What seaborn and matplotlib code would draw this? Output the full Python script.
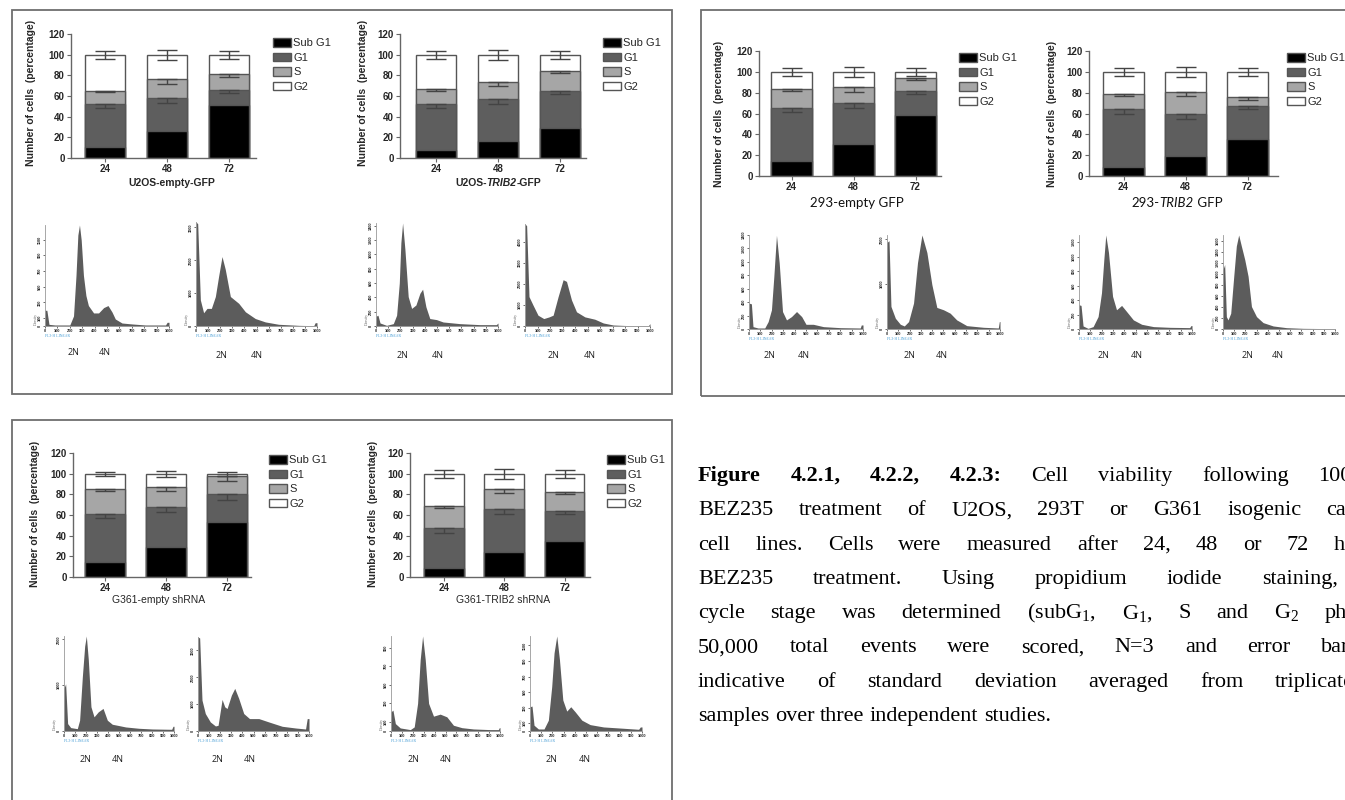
import numpy as np
import pandas as pd
import matplotlib
matplotlib.use("Agg")
import matplotlib.pyplot as plt
from matplotlib.patches import Patch, Rectangle
import seaborn as sns

W, H = 1345, 800

# ---- stacked bars: % of cells per phase (rows Sub G1, G1, S, G2 ; cols 24, 48, 72 h) ----
hours = ["24", "48", "72"]
phases = ["Sub G1", "G1", "S", "G2"]

u2os_empty_pct = [[11, 26, 51], [41, 32, 15], [13, 18, 15], [35, 24, 19]]
u2os_empty_sd = [[4, 5, 3], [1.5, 4, 3], [4, 5, 4]]          # G1, S, G2
u2os_trib2_pct = [[7.5, 16.5, 29], [44.5, 40.5, 36], [15, 17, 19], [33, 26, 16]]
u2os_trib2_sd = [[4, 5, 3], [2, 4, 2], [4, 5, 4]]
hek_empty_pct = [[14, 31, 59], [51, 39, 23], [19, 15, 12], [16, 15, 6]]
hek_empty_sd = [[4, 5, 3], [2, 4, 2], [4, 5, 4]]
hek_trib2_pct = [[9, 19, 36], [55, 41, 31], [15, 21, 9], [21, 19, 24]]
hek_trib2_sd = [[4, 5, 3], [2, 4, 3], [4, 5, 4]]
g361_empty_pct = [[15, 29, 53], [46, 39, 27], [24, 19, 18], [15, 13, 2]]
g361_empty_sd = [[4, 5, 5], [1.5, 4, 5], [2, 3, 2]]
g361_trib2_pct = [[9, 24, 35], [38, 42, 29], [22, 19, 18], [31, 15, 18]]
g361_trib2_sd = [[4, 5, 3], [2, 4, 2], [4, 5, 4]]

# ---- flow cytometry DNA histograms (FL3-H channel, counts) ----
hist_a1_x = [0, 15, 32, 80, 200, 230, 250, 265, 278, 292, 310, 330, 350, 392, 432, 473, 508, 540, 567, 621, 702, 810, 972, 985, 1000]
hist_a1_y = [200, 200, 21, 13, 13, 128, 643, 1157, 1285, 1094, 643, 387, 260, 166, 166, 234, 260, 179, 89, 38, 26, 13, 13, 47, 47]
hist_a1_ticks = [0, 100, 300, 500, 700, 900, 1100]
hist_a2_x = [0, 14, 36, 63, 91, 127, 160, 187, 215, 242, 284, 353, 408, 490, 573, 683, 849, 973, 985, 1000]
hist_a2_y = [3165, 3113, 794, 402, 536, 536, 897, 1515, 2113, 1722, 897, 690, 433, 227, 124, 52, 20, 10, 100, 100]
hist_a2_ticks = [0, 1000, 2000, 3000]
hist_a3_x = [0, 16, 33, 87, 142, 169, 191, 204, 218, 237, 264, 292, 327, 360, 382, 409, 441, 496, 550, 687, 850, 986, 1000]
hist_a3_y = [136, 150, 42, 9, 33, 150, 598, 1162, 1435, 1068, 409, 245, 292, 456, 513, 268, 104, 89, 56, 33, 19, 19, 42]
hist_a3_ticks = [0, 200, 400, 600, 800, 1000, 1200, 1400]
hist_a4_x = [0, 13, 32, 64, 104, 150, 193, 225, 265, 305, 332, 372, 412, 479, 559, 626, 706, 840, 987, 1000]
hist_a4_y = [4870, 4790, 1403, 1000, 516, 355, 435, 516, 1403, 2210, 2129, 1242, 677, 435, 323, 145, 48, 16, 16, 113]
hist_a4_ticks = [0, 1000, 2000, 3000, 4000]

hist_b1_x = [0, 21, 35, 79, 138, 168, 197, 218, 241, 265, 294, 329, 373, 417, 462, 500, 564, 653, 800, 976, 985, 1000]
hist_b1_y = [385, 375, 35, 15, 15, 110, 285, 785, 1395, 985, 260, 135, 185, 260, 185, 70, 70, 35, 20, 15, 60, 60]
hist_b1_ticks = [0, 200, 400, 600, 800, 1000, 1200, 1400]
hist_b2_x = [0, 18, 35, 74, 118, 153, 191, 235, 270, 309, 353, 397, 441, 500, 559, 617, 706, 853, 985, 994, 1000]
hist_b2_y = [1932, 1970, 504, 240, 105, 68, 165, 579, 1481, 2098, 1707, 992, 481, 429, 353, 203, 75, 38, 23, 165, 165]
hist_b2_ticks = [0, 1000, 2000]
hist_b3_x = [0, 18, 36, 80, 125, 169, 199, 220, 237, 261, 297, 332, 377, 421, 481, 555, 659, 807, 979, 991, 1000]
hist_b3_y = [335, 326, 42, 9, 33, 172, 499, 965, 1300, 1058, 452, 266, 326, 242, 126, 65, 33, 23, 19, 47, 47]
hist_b3_ticks = [0, 200, 400, 600, 800, 1000, 1200]
hist_b4_x = [0, 15, 30, 45, 69, 96, 119, 140, 164, 194, 224, 254, 299, 358, 448, 567, 716, 985, 1000]
hist_b4_y = [1078, 1170, 225, 165, 286, 957, 1505, 1706, 1505, 1261, 957, 408, 225, 116, 55, 24, 12, 6, 6]
hist_b4_ticks = [0, 200, 400, 600, 800, 1000, 1200, 1400, 1600]

hist_c1_x = [0, 15, 33, 61, 121, 142, 167, 188, 203, 221, 245, 273, 312, 355, 394, 439, 500, 561, 682, 803, 979, 991, 1000]
hist_c1_y = [934, 1029, 162, 74, 51, 235, 1191, 1853, 2074, 1559, 529, 309, 419, 493, 235, 147, 118, 88, 59, 44, 37, 103, 103]
hist_c1_ticks = [0, 1000, 2000]
hist_c2_x = [0, 15, 36, 66, 111, 157, 181, 202, 217, 241, 262, 301, 331, 367, 412, 464, 548, 638, 759, 879, 969, 984, 1000]
hist_c2_y = [3500, 3462, 1150, 650, 337, 187, 212, 775, 1175, 900, 837, 1337, 1587, 1212, 650, 462, 462, 337, 175, 112, 75, 462, 462]
hist_c2_ticks = [0, 1000, 2000, 3000]
hist_c3_x = [0, 18, 40, 85, 177, 213, 244, 268, 290, 314, 345, 390, 451, 512, 573, 650, 756, 909, 985, 994, 1000]
hist_c3_y = [207, 225, 80, 33, 15, 44, 298, 771, 1025, 771, 298, 160, 182, 153, 62, 36, 22, 15, 15, 36, 36]
hist_c3_ticks = [0, 100, 300, 500, 700, 900]
hist_c4_x = [0, 18, 36, 75, 125, 164, 194, 215, 239, 263, 293, 328, 364, 403, 463, 537, 657, 836, 970, 985, 1000]
hist_c4_y = [312, 321, 74, 26, 26, 139, 572, 1005, 1222, 918, 399, 256, 312, 247, 139, 82, 52, 35, 22, 52, 52]
hist_c4_ticks = [0, 100, 300, 500, 700, 900, 1100]

caption_bold = "Figure 4.2.1, 4.2.2, 4.2.3:"
caption_lines = [
    "Cell viability following 100 nM",
    "BEZ235 treatment of U2OS, 293T or G361 isogenic cancer",
    "cell lines. Cells were measured after 24, 48 or 72 h of",
    "BEZ235 treatment. Using propidium iodide staining, cell",
    "cycle stage was determined (subG$_{\\mathrm{1}}$, G$_{\\mathrm{1}}$, S and G$_{\\mathrm{2}}$ phases).",
    "50,000 total events were scored, N=3 and error bars are",
    "indicative of standard deviation averaged from triplicate",
    "samples over three independent studies.",
]
# extra word spacing (px) of the justified paragraph, line by line
caption_extra = [24, 19.5, 19.5, 34, 20, 25, 26, 0]

# ---- style ----
sns.set_theme(style="ticks")
plt.rcParams["font.family"] = ["Liberation Sans", "DejaVu Sans"]
plt.rcParams["mathtext.fontset"] = "custom"
plt.rcParams["mathtext.rm"] = "Liberation Serif"
plt.rcParams["mathtext.it"] = "Liberation Serif:italic"

phase_colors = ["#000000", "#5e5e5e", "#a6a6a6", "#ffffff"]
edge_col = "#555555"
spine_col = "#666666"
hist_col = "#5c5c5c"

fig = plt.figure(figsize=(W / 100, H / 100), dpi=100)
fig.patch.set_facecolor("white")
renderer = fig.canvas.get_renderer()


def px_axes(left, top, right, bottom):
    return fig.add_axes([left / W, 1 - bottom / H, (right - left) / W, (bottom - top) / H])


def rich_text(cx, cy, pieces, **common):
    texts = [fig.text(0, 1 - cy / H, s, ha="left", va="center", **common, **kw) for s, kw in pieces]
    widths = [t.get_window_extent(renderer).width for t in texts]
    x = cx - sum(widths) / 2
    for t, w in zip(texts, widths):
        t.set_x(x / W)
        x += w


def bar_chart(pct, sd, box, legend_xy, ylabel_xy, width=0.66):
    axis_x, c0, step, end, y0, y120 = box
    ax = px_axes(axis_x, y120, end, y0)
    tops = np.cumsum(np.asarray(pct, float), axis=0)
    df = pd.DataFrame({"hour": np.tile(hours, 4), "phase": np.repeat(phases, 3), "top": tops.ravel()})
    # tallest (cumulative) first so the lower phases sit on top
    for i in range(3, -1, -1):
        sns.barplot(data=df[df["phase"] == phases[i]], x="hour", y="top", order=hours,
                    color=phase_colors[i], saturation=1, width=width, edgecolor=edge_col,
                    linewidth=1, errorbar=None, ax=ax)
    xpos = np.arange(3)
    sd = np.asarray(sd, float)
    for k in range(2):
        ax.errorbar(xpos, tops[k + 1], yerr=[sd[k], np.zeros(3)], fmt="none", ecolor="#444444",
                    elinewidth=1, capsize=7, capthick=1, zorder=5)
    ax.errorbar(xpos, tops[3], yerr=sd[2], fmt="none", ecolor="#444444",
                elinewidth=1, capsize=7, capthick=1, zorder=5)
    ax.set_xlim(-(c0 - axis_x) / step, 2 + (end - (c0 + 2 * step)) / step)
    ax.set_ylim(0, 120)
    ax.set_yticks(range(0, 121, 20))
    ax.set_xlabel("")
    ax.set_ylabel("")
    sns.despine(ax=ax)
    for s in ("left", "bottom"):
        ax.spines[s].set_color(spine_col)
        ax.spines[s].set_linewidth(1)
    ax.tick_params(axis="both", labelsize=7, length=3, width=0.8, color=spine_col, pad=1.5)
    for t in ax.get_xticklabels() + ax.get_yticklabels():
        t.set_fontweight("bold")
    handles = [Patch(facecolor=c, edgecolor=edge_col, linewidth=1, label=p)
               for p, c in zip(phases, phase_colors)]
    fig.legend(handles=handles, loc="upper left", bbox_to_anchor=(legend_xy[0] / W, 1 - legend_xy[1] / H),
               frameon=False, fontsize=8, handlelength=1.6, handleheight=0.8, handletextpad=0.2,
               labelspacing=0.4, borderpad=0, borderaxespad=0)
    fig.text(ylabel_xy[0] / W, 1 - ylabel_xy[1] / H, "Number of cells  (percentage)", rotation=90,
             ha="center", va="center", fontsize=7.5, fontweight="bold")
    return ax


def histogram(x, y, ticks, box, n_pos):
    left, top, right, bottom = box
    ax = px_axes(left, top, right, bottom)
    ax.fill_between(x, y, 0, color=hist_col, linewidth=0)
    ax.set_xlim(0, 1000)
    ax.set_ylim(0, max(y))
    ax.set_xticks(range(0, 1001, 100))
    ax.set_xticklabels([str(v) for v in range(0, 1001, 100)], fontsize=2.8, fontweight="bold")
    ax.set_yticks(ticks)
    ax.set_yticklabels([str(v) for v in ticks], fontsize=2.8, fontweight="bold", rotation=90, va="center")
    ax.tick_params(axis="both", length=1.5, width=0.5, pad=1, color="#333333")
    sns.despine(ax=ax)
    for s in ("left", "bottom"):
        ax.spines[s].set_color("#999999")
        ax.spines[s].set_linewidth(0.6)
    ax.set_facecolor("white")
    fig.text(left / W, 1 - (bottom + 10) / H, "FL3-H LINEAR", fontsize=2.8, color="#4a9fd6",
             ha="left", va="center", family="Liberation Serif")
    fig.text((left - 9) / W, 1 - (bottom - 1) / H, "Density", fontsize=2.8, color="#666666",
             rotation=90, ha="center", va="bottom", family="Liberation Serif")
    for lbl, cx in zip(["2N", "4N"], n_pos[:2]):
        fig.text(cx / W, 1 - n_pos[2] / H, lbl, fontsize=6.5, color="#222222", ha="center",
                 va="center", family="Open Sans")


# ---- panel frames ----
for x0, y0, x1, y1 in [(12, 10, 672, 394), (701, 10, 1360, 396), (12, 420, 672, 815)]:
    fig.add_artist(Rectangle((x0 / W, 1 - y1 / H), (x1 - x0) / W, (y1 - y0) / H, transform=fig.transFigure,
                             fill=False, edgecolor="#6e6e6e", linewidth=1.3))

# ---- bar charts ----
bar_chart(u2os_empty_pct, u2os_empty_sd, (71, 105, 62, 256, 158, 34), (273, 38), (31, 93))
bar_chart(u2os_trib2_pct, u2os_trib2_sd, (400, 436, 62, 586, 158, 34), (603, 38), (363, 93))
bar_chart(hek_empty_pct, hek_empty_sd, (759, 791.5, 62, 941, 176, 51), (959, 53), (719, 114))
bar_chart(hek_trib2_pct, hek_trib2_sd, (1089, 1123.5, 62, 1278, 176, 51), (1287, 53), (1052, 114))
bar_chart(g361_empty_pct, g361_empty_sd, (73, 105, 61, 251, 577, 453), (269, 455), (35, 514))
bar_chart(g361_trib2_pct, g361_trib2_sd, (410, 444, 60.3, 590, 577, 453), (607, 455), (373, 514))

# chart titles under the x axis
bold_a = dict(fontsize=7.5, fontweight="bold")
rich_text(172, 183, [("U2OS-empty-GFP", {})], **bold_a)
rich_text(498, 183, [("U2OS-", {}), ("TRIB2", {"style": "italic"}), ("-GFP", {})], **bold_a)
calib = dict(fontsize=9.5, family="Lato", color="#111111")
rich_text(857, 203, [("293-empty GFP", {})], **calib)
rich_text(1177, 203, [("293-", {}), ("TRIB2", {"style": "italic"}), (" GFP", {})], **calib)
rich_text(159, 600, [("G361-empty shRNA", {})], fontsize=7.5)
rich_text(503, 600, [("G361-TRIB2 shRNA", {})], fontsize=7.5)

# ---- histograms ----
histogram(hist_a1_x, hist_a1_y, hist_a1_ticks, (45, 225, 169, 326), (74, 105, 353))
histogram(hist_a2_x, hist_a2_y, hist_a2_ticks, (196, 222, 317, 326), (222, 257, 355))
histogram(hist_a3_x, hist_a3_y, hist_a3_ticks, (376, 223, 498, 326), (403, 438, 355))
histogram(hist_a4_x, hist_a4_y, hist_a4_ticks, (525, 224, 650, 326), (553, 590, 355))
histogram(hist_b1_x, hist_b1_y, hist_b1_ticks, (749, 235, 863, 329), (770, 804, 355))
histogram(hist_b2_x, hist_b2_y, hist_b2_ticks, (887, 235, 1000, 329), (909, 942, 355))
histogram(hist_b3_x, hist_b3_y, hist_b3_ticks, (1079, 235, 1192, 329), (1103, 1137, 355))
histogram(hist_b4_x, hist_b4_y, hist_b4_ticks, (1223, 235, 1335, 329), (1247, 1278, 355))
histogram(hist_c1_x, hist_c1_y, hist_c1_ticks, (64, 636, 174, 731), (85, 118, 760))
histogram(hist_c2_x, hist_c2_y, hist_c2_ticks, (198, 637, 309, 731), (217, 250, 760))
histogram(hist_c3_x, hist_c3_y, hist_c3_ticks, (391, 636, 500, 731), (413, 446, 760))
histogram(hist_c4_x, hist_c4_y, hist_c4_ticks, (530, 636, 642, 731), (552, 585, 760))

# ---- caption, justified word by word ----
cap = dict(fontsize=16, family="Liberation Serif", color="black", va="baseline", ha="left")
probe_a = fig.text(0, 0, "n n", **cap)
probe_b = fig.text(0, 0, "nn", **cap)
space_w = probe_a.get_window_extent(renderer).width - probe_b.get_window_extent(renderer).width
probe_a.remove()
probe_b.remove()

for i, line in enumerate(caption_lines):
    y = 1 - (481 + 34.3 * i) / H
    words = [(w, {}) for w in line.split(" ")]
    if i == 0:
        words = [(w, {"fontweight": "bold"}) for w in caption_bold.split(" ")] + words
    x = 698
    for w, kw in words:
        t = fig.text(x / W, y, w, **cap, **kw)
        x += t.get_window_extent(renderer).width + space_w + caption_extra[i]

fig.savefig("out.png", dpi=100, facecolor="white")
